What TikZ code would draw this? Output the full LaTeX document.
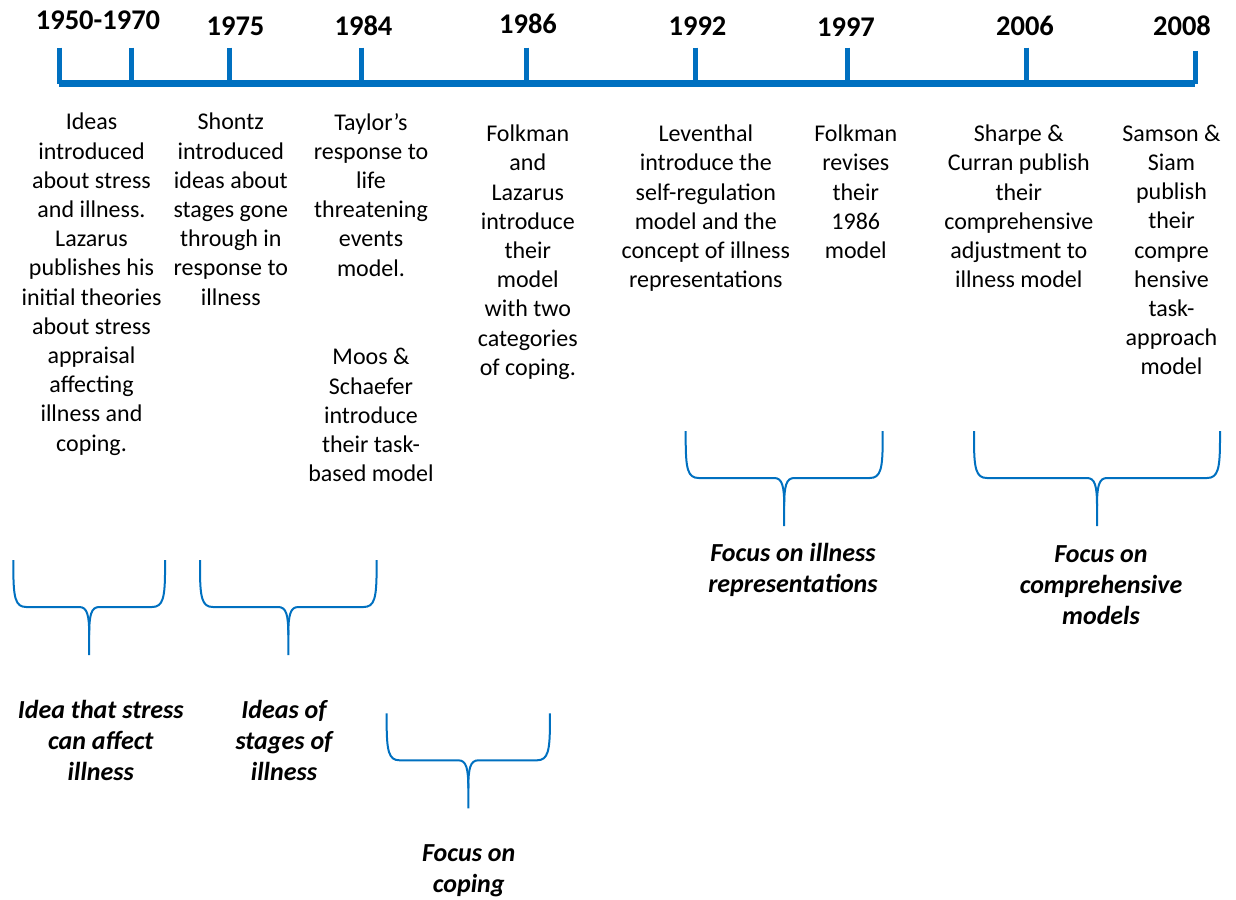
\documentclass[tikz,border=0pt]{standalone}
\usepackage{fontspec}
\setmainfont{Carlito}
\usepackage{tikz}
\definecolor{timeblue}{HTML}{0070C0}
\newcommand{\focusbrace}[1]{\draw[focusline] (-#1,0) -- (-#1,8) .. controls (-#1,38) and ({-#1+2},47) .. ({-#1+13},47) -- (-10,47) .. controls (-2,47) and (0,55) .. (0,75) -- (0,95);
					\draw[focusline] (#1,0) -- (#1,8) .. controls (#1,38) and ({#1-2},47) .. ({#1-13},47) -- (10,47) .. controls (2,47) and (0,55) .. (0,75);}
\tikzset{
	axisline/.style={draw=timeblue, line width=7pt},
	tickline/.style={draw=timeblue, line width=5pt},
	focusline/.style={draw=timeblue, line width=2pt},
	yearlabel/.style={font=\fontsize{28.5}{34}\selectfont\bfseries, inner sep=0pt, anchor=base},
	eventtext/.style={align=center, font=\fontsize{24}{29.2}\selectfont, inner sep=0pt, anchor=north, execute at begin node=\strut},
	focuslabel/.style={align=center, font=\fontsize{26}{31}\selectfont\bfseries\itshape, inner sep=0pt, anchor=north, execute at begin node=\strut}
}

\begin{document}
\begin{tikzpicture}[x=1pt, y=-1pt]

					\useasboundingbox (0,0) rectangle (1236,899);

					% ticks on the time line
					\coordinate (tick1950) at (59.3,47.7);
					\coordinate (tick1970) at (131.7,47.7);
					\coordinate (tick1975) at (229.3,47.7);
					\coordinate (tick1984) at (361.7,47.7);
					\coordinate (tick1986) at (526,47.7);
					\coordinate (tick1992) at (695,47.7);
					\coordinate (tick1997) at (847.3,47.7);
					\coordinate (tick2006) at (1026.7,47.7);
					\coordinate (tick2008) at (1195,51);

					\coordinate (foot1950) at (59.3,83.7);
					\coordinate (foot1970) at (131.7,83.7);
					\coordinate (foot1975) at (229.3,83.7);
					\coordinate (foot1984) at (361.7,83.7);
					\coordinate (foot1986) at (526,83.7);
					\coordinate (foot1992) at (695,83.7);
					\coordinate (foot1997) at (847.3,83.7);
					\coordinate (foot2006) at (1026.7,83.7);
					\coordinate (foot2008) at (1195,83.7);

					\draw[tickline] (tick1950) -- (foot1950);
					\draw[tickline] (tick1970) -- (foot1970);
					\draw[tickline] (tick1975) -- (foot1975);
					\draw[tickline] (tick1984) -- (foot1984);
					\draw[tickline] (tick1986) -- (foot1986);
					\draw[tickline] (tick1992) -- (foot1992);
					\draw[tickline] (tick1997) -- (foot1997);
					\draw[tickline] (tick2006) -- (foot2006);
					\draw[tickline] (tick2008) -- (foot2008);

					\draw[axisline] (foot1950) -- (foot2008);

					% years
					\node[yearlabel] (y1950) at (98,29.3) {1950-1970};
					\node[yearlabel] (y1975) at (235.5,36) {1975};
					\node[yearlabel] (y1984) at (363.5,36) {1984};
					\node[yearlabel] (y1986) at (528,33.3) {1986};
					\node[yearlabel] (y1992) at (697.5,36) {1992};
					\node[yearlabel] (y1997) at (846,36.7) {1997};
					\node[yearlabel] (y2006) at (1025,36) {2006};
					\node[yearlabel] (y2008) at (1182,36) {2008};

					% events
					\node[eventtext] (stress) at (91.5,113) {Ideas\\introduced\\about stress\\and illness.\\Lazarus\\publishes his\\initial theories\\about stress\\appraisal\\affecting\\illness and\\coping.};
					\node[eventtext] (shontz) at (230.8,113) {Shontz\\introduced\\ideas about\\stages gone\\through in\\response to\\illness};
					\node[eventtext] (taylor) at (371,113) {Taylor’s\\response to\\life\\threatening\\events\\model.};
					\node[eventtext] (moos) at (371,348.3) {Moos \&\\Schaefer\\introduce\\their task-\\based model};
					\node[eventtext] (folkman) at (527.8,124.8) {Folkman\\and\\Lazarus\\introduce\\their\\model\\with two\\categories\\of coping.};
					\node[eventtext] (leventhal) at (705.8,124.8) {Leventhal\\introduce the\\self-regulation\\model and the\\concept of illness\\representations};
					\node[eventtext] (revises) at (855.8,124.8) {Folkman\\revises\\their\\1986\\model};
					\node[eventtext] (sharpe) at (1018.8,124.8) {Sharpe \&\\Curran publish\\their\\comprehensive\\adjustment to\\illness model};
					\node[eventtext] (samson) at (1171.5,124.8) {Samson \&\\Siam\\publish\\their\\compre\\hensive\\task-\\approach\\model};

					% braces
					\begin{scope}[xshift = 89.2pt, yshift = -560pt]
						\focusbrace{75.85}
					\end{scope}

					\begin{scope}[xshift = 288.3pt, yshift = -560pt]
						\focusbrace{88.3}
					\end{scope}

					\begin{scope}[xshift = 468.3pt, yshift = -713.3pt]
						\focusbrace{81.65}
					\end{scope}

					\begin{scope}[xshift = 784.2pt, yshift = -431pt]
						\focusbrace{98.5}
					\end{scope}

					\begin{scope}[xshift = 1097pt, yshift = -431pt]
						\focusbrace{123}
					\end{scope}

					% focus labels
					\node[focuslabel] (stresslabel) at (100.8,700) {Idea that stress\\can affect\\illness};
					\node[focuslabel] (stageslabel) at (284,700) {Ideas of\\stages of\\illness};
					\node[focuslabel] (copinglabel) at (468.7,844.5) {Focus on\\coping};
					\node[focuslabel] (reprlabel) at (793,543.3) {Focus on illness\\representations};
					\node[focuslabel] (complabel) at (1101,545) {Focus on\\comprehensive\\models};

\end{tikzpicture}
\end{document}
